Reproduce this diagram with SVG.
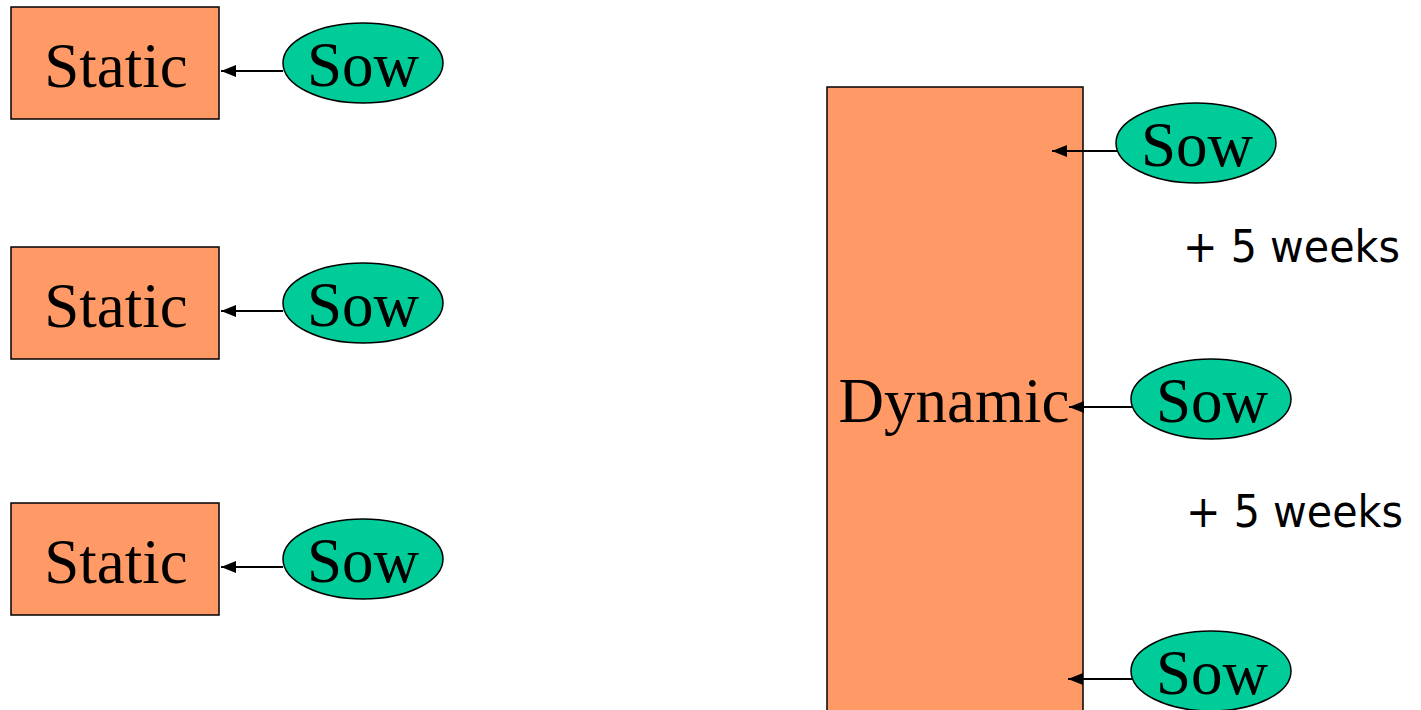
<svg xmlns="http://www.w3.org/2000/svg" width="1421" height="710" viewBox="0 0 1421 710">
<style>
.box{fill:#FF9966;stroke:#000;stroke-width:1.5}
.sow{fill:#00CC99;stroke:#000;stroke-width:1.5}
.lbl{font-family:"Liberation Serif","Times New Roman",serif;font-size:63px;fill:#000;text-anchor:middle}
.wk{font-family:"DejaVu Sans",Tahoma,sans-serif;font-size:44px;fill:#000}
.conn{stroke:#000;stroke-width:2;fill:none;marker-end:url(#arr)}
</style>
<defs>
<marker id="arr" markerWidth="16" markerHeight="12" refX="15" refY="6" orient="auto" markerUnits="userSpaceOnUse">
<path d="M0,0 L15,6 L0,12 z" fill="#000"/>
</marker>
</defs>
<rect width="1421" height="710" fill="#fff"/>
<g id="static1"><rect class="box" x="11" y="7" width="208" height="112"/><text class="lbl" x="116" y="87">Static</text></g>
<g id="static2"><rect class="box" x="11" y="247" width="208" height="112"/><text class="lbl" x="116" y="327">Static</text></g>
<g id="static3"><rect class="box" x="11" y="503" width="208" height="112"/><text class="lbl" x="116" y="583">Static</text></g>
<g id="sowL1"><ellipse class="sow" cx="363" cy="63" rx="80" ry="40"/><text class="lbl" x="363" y="86">Sow</text></g>
<g id="sowL2"><ellipse class="sow" cx="363" cy="303" rx="80" ry="40"/><text class="lbl" x="363" y="326">Sow</text></g>
<g id="sowL3"><ellipse class="sow" cx="363" cy="559" rx="80" ry="40"/><text class="lbl" x="363" y="582">Sow</text></g>
<g id="dynamic"><rect class="box" x="827" y="87" width="256" height="630"/><text class="lbl" x="954" y="422">Dynamic</text></g>
<g id="sowR1"><ellipse class="sow" cx="1196" cy="143" rx="80" ry="40"/><text class="lbl" x="1197" y="166">Sow</text></g>
<g id="sowR2"><ellipse class="sow" cx="1211" cy="399" rx="80" ry="40"/><text class="lbl" x="1212" y="422">Sow</text></g>
<g id="sowR3"><ellipse class="sow" cx="1211" cy="671" rx="80" ry="40"/><text class="lbl" x="1212" y="694">Sow</text></g>
<g id="labels">
<text class="wk" x="1183" y="262" textLength="217" lengthAdjust="spacingAndGlyphs">+ 5 weeks</text>
<text class="wk" x="1186" y="527" textLength="217" lengthAdjust="spacingAndGlyphs">+ 5 weeks</text>
</g>
<g id="connectors">
<line class="conn" x1="283" y1="71" x2="221" y2="71"/>
<line class="conn" x1="283" y1="311" x2="221" y2="311"/>
<line class="conn" x1="283" y1="567" x2="221" y2="567"/>
<line class="conn" x1="1117" y1="151" x2="1052" y2="151"/>
<line class="conn" x1="1132" y1="407" x2="1069" y2="407"/>
<line class="conn" x1="1132" y1="679" x2="1068" y2="679"/>
</g>
</svg>
